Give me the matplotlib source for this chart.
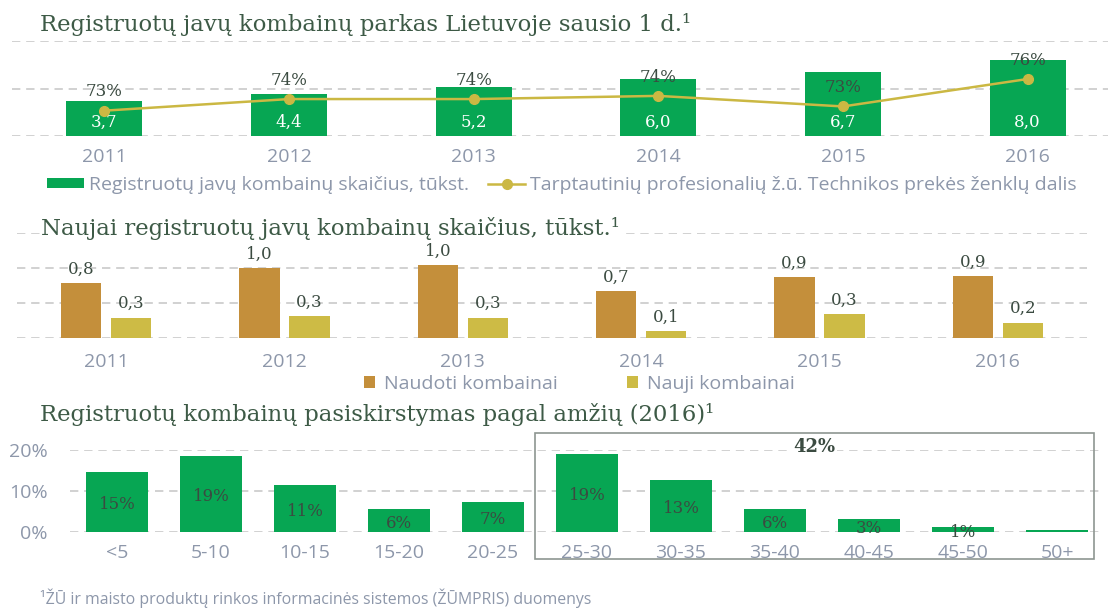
import matplotlib
matplotlib.use('Agg')
import matplotlib.pyplot as plt
from matplotlib.patches import Rectangle
import numpy as np

# Duomenys
metai = ['2011', '2012', '2013', '2014', '2015', '2016']
kombainai = [3.7, 4.4, 5.2, 6.0, 6.7, 8.0]          # tukst.
dalis = [73.0, 74.1, 74.1, 74.4, 73.4, 76.0]         # %
naudoti = [0.78, 1.0, 1.04, 0.67, 0.87, 0.88]
nauji = [0.29, 0.31, 0.29, 0.10, 0.34, 0.22]
amzius = ['<5', '5-10', '10-15', '15-20', '20-25', '25-30',
          '30-35', '35-40', '40-45', '45-50', '50+']
amzius_dalis = [14.6, 18.6, 11.4, 5.6, 7.3, 19.0, 12.7, 5.6, 3.2, 1.2, 0.5]

# Spalvos
ZALIA = '#07a653'
GELTONA = '#cbb843'
RUDA = '#c48f3b'
NAUJI = '#cdbb45'
PILKA = '#8d97aa'
TAMSI = '#3b4b41'
ANTRASTE = '#3d5a46'
TINKLAS = '#c9c9c9'
SERIF = 'DejaVu Serif'
SANS = 'Open Sans'

W, H = 1108, 610
fig = plt.figure(figsize=(W / 100, H / 100), dpi=100)


def rect(x0, y0, x1, y1):
    return [x0 / W, 1 - y1 / H, (x1 - x0) / W, (y1 - y0) / H]


def stilius(ax, pad):
    for s in ax.spines.values():
        s.set_visible(False)
    ax.grid(axis='y', color=TINKLAS, linestyle=(0, (5, 3.5)), linewidth=1.2)
    ax.set_axisbelow(True)
    ax.tick_params(axis='both', length=0, labelsize=14, labelcolor=PILKA, pad=pad)
    for t in ax.get_xticklabels() + ax.get_yticklabels():
        t.set_family(SANS)


def antraste(x, y, tekstas):
    fig.text(x / W, 1 - y / H, tekstas, ha='left', va='center', fontsize=16.4,
             family=SERIF, color=ANTRASTE,
             bbox=dict(facecolor='white', edgecolor='none', pad=1))


# 1 grafikas
x = np.arange(len(metai))
ax1 = fig.add_axes(rect(12, 41, 1120, 136))
stulp = ax1.bar(x, kombainai, width=0.41, color=ZALIA)
ax1.set_xlim(-0.5, 5.5)
ax1.set_ylim(0, 10)
ax1.set_yticks([0, 5, 10])
ax1.set_xticks(x, metai)
ax1.tick_params(axis='y', labelleft=False)
stilius(ax1, 9)
for xi, v in zip(x, kombainai):
    ax1.annotate(f'{v:.1f}'.replace('.', ','), (xi, 0), xytext=(0, 10),
                 textcoords='offset points', ha='center', va='center',
                 color='white', fontsize=12, family=SERIF)

ax2 = ax1.twinx()
linija, = ax2.plot(x, dalis, color=GELTONA, lw=1.8, marker='o', ms=7)
ax2.set_ylim(70.6, 79.6)
ax2.set_yticks([])
for s in ax2.spines.values():
    s.set_visible(False)
for xi, p in zip(x, dalis):
    ax2.annotate(f'{p:.0f}%', (xi, p), xytext=(0, 13.5), textcoords='offset points',
                 ha='center', va='center', fontsize=12, family=SERIF, color=TAMSI)

fig.legend([stulp, linija],
           ['Registruotų javų kombainų skaičius, tūkst.',
            'Tarptautinių profesionalių ž.ū. Technikos prekės ženklų dalis'],
           loc='center left', bbox_to_anchor=(47 / W, 1 - 185 / H), ncol=2,
           frameon=False, prop={'family': SANS, 'size': 14}, labelcolor=PILKA,
           handlelength=1.9, handleheight=0.45, handletextpad=0.26,
           columnspacing=1.0, borderpad=0, borderaxespad=0)
antraste(40, 25, 'Registruotų javų kombainų parkas Lietuvoje sausio 1 d.¹')

# 2 grafikas
ax3 = fig.add_axes(rect(17, 233, 1087, 338))
b1 = ax3.bar(x - 0.14, naudoti, width=0.225, color=RUDA)
b2 = ax3.bar(x + 0.14, nauji, width=0.225, color=NAUJI)
ax3.set_xlim(-0.5, 5.5)
ax3.set_ylim(0, 1.5)
ax3.set_yticks([0, 0.5, 1.0, 1.5])
ax3.set_xticks(x, metai)
ax3.tick_params(axis='y', labelleft=False)
stilius(ax3, 11)
for xs, vals in [(x - 0.14, naudoti), (x + 0.14, nauji)]:
    for xi, v in zip(xs, vals):
        ax3.annotate(f'{v:.1f}'.replace('.', ','), (xi, v), xytext=(0, 10),
                     textcoords='offset points', ha='center', va='center',
                     fontsize=12, family=SERIF, color=TAMSI)
fig.legend([b1, b2], ['Naudoti kombainai', 'Nauji kombainai'],
           loc='center left', bbox_to_anchor=(364 / W, 1 - 384 / H), ncol=2,
           frameon=False, prop={'family': SANS, 'size': 14}, labelcolor=PILKA,
           handlelength=0.57, handleheight=0.57, handletextpad=0.46,
           columnspacing=3.55, borderpad=0, borderaxespad=0)
antraste(41, 229, 'Naujai registruotų javų kombainų skaičius, tūkst.¹')

# 3 grafikas
xa = np.arange(len(amzius))
ax4 = fig.add_axes(rect(70, 450, 1104, 532))
ax4.bar(xa, amzius_dalis, width=0.66, color=ZALIA)
ax4.set_xlim(-0.5, 10.5)
ax4.set_ylim(0, 20)
ax4.set_yticks([0, 10, 20], ['0%', '10%', '20%'])
ax4.set_xticks(xa, amzius)
stilius(ax4, 9)
ax4.tick_params(axis='y', pad=16)
for xi, v in zip(xa, amzius_dalis):
    if round(v) > 0:
        ax4.annotate(f'{v:.0f}%', (xi, v / 2), xytext=(0, -2),
                     textcoords='offset points', ha='center', va='center',
                     fontsize=12, family=SERIF, color=TAMSI)
ax4.add_patch(Rectangle((4.45, -6.6), 5.94, 30.7, fill=False,
                        edgecolor='#8d9691', lw=1.2, clip_on=False))
ax4.text(7.42, 20.7, f'{sum(round(v) for v in amzius_dalis[5:])}%',
         ha='center', va='center', fontsize=13, fontweight='bold',
         family=SERIF, color=TAMSI,
         bbox=dict(facecolor='white', edgecolor='none', pad=1))
antraste(40, 415, 'Registruotų kombainų pasiskirstymas pagal amžių (2016)¹')

fig.text(40 / W, 1 - 598 / H,
         '¹ŽŪ ir maisto produktų rinkos informacinės sistemos (ŽŪMPRIS) duomenys',
         ha='left', va='center', fontsize=11.4, family=SANS, color=PILKA)

fig.savefig('out.png', dpi=100)
